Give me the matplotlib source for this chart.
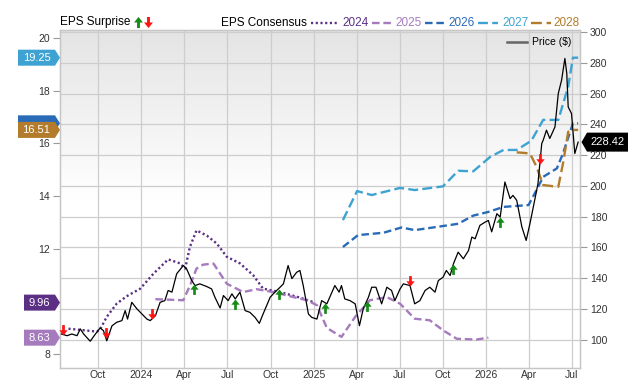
import numpy as np
import pandas as pd
import matplotlib
matplotlib.use("Agg")
import matplotlib.pyplot as plt
import matplotlib.dates as mdates
import matplotlib.transforms as mtransforms
from matplotlib.path import Path
from matplotlib.patches import Polygon
from matplotlib.lines import Line2D
from matplotlib.ticker import FixedLocator, FuncFormatter

plt.rcParams['font.family'] = ['Liberation Sans', 'DejaVu Sans']

# ---------------- data ----------------
price_dates = [
    "2023-07-16", "2023-07-28", "2023-08-07", "2023-08-18", "2023-08-25", "2023-09-01", "2023-09-15",
    "2023-09-26", "2023-10-06", "2023-10-13", "2023-10-20", "2023-10-31", "2023-11-10", "2023-11-21",
    "2023-11-28", "2023-12-03", "2023-12-12", "2023-12-23", "2024-01-13", "2024-01-20", "2024-01-31",
    "2024-02-10", "2024-02-20", "2024-02-27", "2024-03-06", "2024-03-16", "2024-03-30", "2024-04-06",
    "2024-04-17", "2024-04-24", "2024-05-04", "2024-05-19", "2024-05-29", "2024-06-05", "2024-06-16",
    "2024-06-23", "2024-07-03", "2024-07-11", "2024-07-18", "2024-07-28", "2024-08-08", "2024-08-18",
    "2024-08-29", "2024-09-07", "2024-09-15", "2024-09-30", "2024-10-10", "2024-10-21", "2024-10-28",
    "2024-11-07", "2024-11-15", "2024-11-25", "2024-12-02", "2024-12-09", "2024-12-20", "2024-12-27",
    "2025-01-07", "2025-01-17", "2025-01-28", "2025-02-14", "2025-02-23", "2025-02-28", "2025-03-07",
    "2025-03-18", "2025-03-29", "2025-04-07", "2025-04-15", "2025-04-26", "2025-05-03", "2025-05-12",
    "2025-05-24", "2025-06-04", "2025-06-14", "2025-06-21", "2025-07-02", "2025-07-09", "2025-07-23",
    "2025-08-02", "2025-08-13", "2025-08-24", "2025-09-03", "2025-09-14", "2025-09-21", "2025-10-01",
    "2025-10-08", "2025-10-16", "2025-10-23", "2025-11-02", "2025-11-13", "2025-11-24", "2025-12-01",
    "2025-12-08", "2025-12-18", "2025-12-29", "2026-01-05", "2026-01-12", "2026-01-23", "2026-01-30",
    "2026-02-09", "2026-02-20", "2026-02-26", "2026-03-06", "2026-03-17", "2026-03-26", "2026-04-03",
    "2026-04-13", "2026-04-20", "2026-04-28", "2026-05-01", "2026-05-08", "2026-05-15", "2026-05-26",
    "2026-06-02", "2026-06-09", "2026-06-16", "2026-06-20", "2026-06-23", "2026-06-30", "2026-07-07",
    "2026-07-14"]
price_values = [
    103.7, 102.6, 103.7, 102.6, 107.0, 103.7, 99.0,
    103.7, 107.6, 105.9, 99.3, 109.0, 111.3, 112.4,
    118.9, 113.4, 124.3, 120.0, 113.4, 112.4, 115.6,
    124.3, 125.4, 132.0, 130.9, 142.8, 148.2, 146.1,
    138.4, 135.2, 136.3, 134.5, 133.0, 127.6, 120.6,
    128.7, 125.4, 129.8, 126.5, 130.9, 118.9, 117.8,
    114.5, 110.6, 116.7, 127.6, 130.9, 134.1, 136.3,
    148.2, 139.7, 143.8, 145.0, 135.2, 116.7, 114.5,
    113.4, 125.4, 123.3, 135.2, 130.9, 135.2, 126.5,
    125.4, 123.3, 109.1, 120.0, 127.6, 134.1, 134.1,
    123.3, 134.1, 132.0, 125.4, 133.0, 136.3, 135.2,
    123.3, 125.4, 132.0, 134.1, 130.9, 138.4, 140.6,
    145.0, 141.7, 149.3, 156.9, 152.6, 158.0, 166.7,
    165.6, 174.3, 176.4, 177.5, 170.1, 181.9, 179.7,
    202.5, 191.7, 193.8, 190.6, 173.2, 164.5, 175.4,
    190.6, 201.4, 227.5, 229.6, 236.2, 230.8, 238.3,
    260.0, 268.7, 282.8, 273.1, 251.3, 247.0, 221.0,
    228.42]

eps2024_dates = ["2023-07-31", "2023-09-08", "2023-09-29", "2023-10-06", "2023-10-20", "2023-11-10",
                 "2023-12-01", "2023-12-30", "2024-01-27", "2024-02-27", "2024-03-23", "2024-04-03",
                 "2024-04-13", "2024-04-27", "2024-05-19", "2024-06-09", "2024-06-30", "2024-07-28",
                 "2024-08-25", "2024-09-15", "2024-10-21", "2024-12-02", "2025-01-03"]
eps2024_values = [8.97, 8.90, 8.86, 8.95, 9.42, 9.92,
                  10.20, 10.49, 11.06, 11.60, 11.45, 11.25,
                  12.07, 12.70, 12.50, 12.20, 11.70, 11.45,
                  11.00, 10.49, 10.36, 10.15, 9.96]

eps2025_dates = ["2024-01-31", "2024-03-30", "2024-04-13", "2024-04-27", "2024-05-11", "2024-06-02",
                 "2024-06-30", "2024-08-04", "2024-09-01", "2024-10-07", "2024-11-18", "2024-12-17",
                 "2025-01-07", "2025-01-28", "2025-02-28", "2025-03-29", "2025-04-29", "2025-06-04",
                 "2025-07-02", "2025-08-02", "2025-09-03", "2025-10-01", "2025-10-30", "2025-12-11",
                 "2026-01-05"]
eps2025_values = [10.09, 10.05, 10.60, 11.25, 11.40, 11.44,
                  10.68, 10.36, 10.47, 10.36, 10.17, 10.05,
                  9.86, 9.00, 8.66, 9.42, 10.05, 10.17,
                  9.92, 9.35, 9.29, 8.91, 8.59, 8.56,
                  8.63]

eps2026_dates = ["2025-03-03", "2025-04-04", "2025-05-28", "2025-07-05", "2025-08-02", "2025-09-10",
                 "2025-11-02", "2025-12-04", "2026-01-05", "2026-02-06", "2026-03-31", "2026-04-17",
                 "2026-05-01", "2026-05-30", "2026-06-12", "2026-07-03", "2026-07-14"]
eps2026_values = [12.07, 12.52, 12.61, 12.81, 12.71, 12.81,
                  12.95, 13.26, 13.40, 13.59, 13.66, 14.23,
                  14.73, 15.05, 15.62, 16.76, 16.76]

eps2027_dates = ["2025-03-03", "2025-04-02", "2025-05-03", "2025-07-02", "2025-08-02", "2025-10-01",
                 "2025-11-02", "2025-12-04", "2026-01-09", "2026-02-06", "2026-03-06", "2026-04-06",
                 "2026-05-01", "2026-06-02", "2026-06-23", "2026-07-03", "2026-07-14"]
eps2027_values = [13.09, 14.19, 14.04, 14.31, 14.23, 14.37,
                  14.96, 14.94, 15.49, 15.75, 15.75, 16.10,
                  16.89, 16.89, 18.15, 19.25, 19.25]

eps2028_dates = ["2026-03-06", "2026-04-03", "2026-04-17", "2026-05-01", "2026-06-02", "2026-06-12",
                 "2026-06-23", "2026-07-03", "2026-07-14"]
eps2028_values = [15.66, 15.62, 15.11, 14.42, 14.35, 15.24,
                  16.44, 16.51, 16.51]

earn_dates = ["2023-07-20", "2023-10-18", "2024-01-23", "2024-04-22", "2024-07-18", "2024-10-18",
              "2025-01-25", "2025-04-22", "2025-07-23", "2025-10-23", "2026-01-29", "2026-04-24"]
earn_beat = [False, False, False, True, True, True, True, True, False, True, True, False]

series_names = ["2024", "2025", "2026", "2027", "2028"]
series_colors = ["#5b2f84", "#a57bbd", "#2a6bb8", "#3ea2d2", "#b27c2c"]
series_styles = [(0, (0.9, 1.1)), (0, (3.2, 1.6)), (0, (3.2, 1.6)), (0, (4.2, 1.8)), (0, (4.6, 2.0))]
series_data = [(eps2024_dates, eps2024_values), (eps2025_dates, eps2025_values),
               (eps2026_dates, eps2026_values), (eps2027_dates, eps2027_values),
               (eps2028_dates, eps2028_values)]

x_start, x_end = "2023-07-13", "2026-07-18"
eps_lim = (7.48, 20.30)
price_lim = (81.6, 301.3)
eps_ticks = [8, 10, 12, 14, 16, 18, 20]
price_ticks = [100, 120, 140, 160, 180, 200, 220, 240, 260, 280, 300]

# ---------------- figure ----------------
W, H = 640, 382
fig = plt.figure(figsize=(W / 100, H / 100), dpi=100)
AX_TOP, AX_BOT = 30, 368
ax = fig.add_axes([60 / W, 1 - AX_BOT / H, 520 / W, (AX_BOT - AX_TOP) / H])
ax2 = ax.twinx()
AX_H = AX_BOT - AX_TOP

grid_c = "#cdcdcd"
txt_c = "#333333"

# gradient background (gray at top fading to white)
grad = np.linspace(0, 1, 256).reshape(-1, 1)
shade = np.clip(grad / 0.5, 0, 1)
vals = 0.895 + (1 - 0.895) * shade
img = np.dstack([vals, vals, vals])
ax.imshow(img, extent=[0, 1, 0, 1], origin="upper", transform=ax.transAxes, aspect="auto",
          zorder=0.1, interpolation="bilinear")

ax.set_xlim(pd.Timestamp(x_start), pd.Timestamp(x_end))
ax.set_ylim(*eps_lim)
ax2.set_ylim(*price_lim)

# x axis
ax.xaxis.set_major_locator(mdates.MonthLocator(bymonth=[1, 4, 7, 10]))
def xfmt(x, pos):
    d = mdates.num2date(x)
    return str(d.year) if d.month == 1 else d.strftime("%b")
ax.xaxis.set_major_formatter(FuncFormatter(xfmt))
ax.tick_params(axis="x", length=0, pad=1.5, labelsize=7.5, labelcolor=txt_c)

# left axis
ax.set_yticks(eps_ticks)
ax.tick_params(axis="y", which="major", length=5, width=0.8, color="#9a9a9a", pad=2,
               labelsize=7.5, labelcolor=txt_c)
# price grid lines drawn in the back axes
pt = np.array(price_ticks, dtype=float)
grid_pos = eps_lim[0] + (pt - price_lim[0]) * (eps_lim[1] - eps_lim[0]) / (price_lim[1] - price_lim[0])
ax.yaxis.set_minor_locator(FixedLocator(grid_pos))
ax.tick_params(axis="y", which="minor", length=0)
ax.set_axisbelow(True)
ax.grid(axis="x", which="major", color=grid_c, lw=0.9)
ax.grid(axis="y", which="minor", color=grid_c, lw=0.9)

# right axis
ax2.set_yticks(price_ticks)
ax2.tick_params(axis="y", length=5, width=0.8, color="#9a9a9a", pad=2, labelsize=7.5,
                labelcolor=txt_c)

for a in (ax, ax2):
    for s in a.spines.values():
        s.set_color("#c6c6c6")
        s.set_linewidth(0.9)

# EPS consensus lines
for name, col, ls, (d, v) in zip(series_names, series_colors, series_styles, series_data):
    ax.plot(pd.to_datetime(d), v, color=col, lw=1.7, ls=ls, zorder=3,
            dash_capstyle="butt", solid_capstyle="butt")

# price line
pdates = pd.to_datetime(price_dates)
ax2.plot(pdates, price_values, color="black", lw=0.9, zorder=4)

# EPS surprise arrows (tip on price line)
up_path = Path([(0, 0), (-0.4, -0.5), (-0.13, -0.5), (-0.13, -1), (0.13, -1), (0.13, -0.5),
                (0.4, -0.5), (0, 0)],
               [Path.MOVETO] + [Path.LINETO] * 6 + [Path.CLOSEPOLY])
down_path = Path([(x, -y) for x, y in up_path.vertices], up_path.codes)
green, red = "#178a17", "#ff1414"
ed = pd.to_datetime(earn_dates)
ey = np.interp(mdates.date2num(ed), mdates.date2num(pdates), price_values)
for d, y, beat in zip(ed, ey, earn_beat):
    ax2.plot([d], [y], ls="none", marker=up_path if beat else down_path, ms=15, mew=0,
             color=green if beat else red, zorder=6, clip_on=False)

# ---------------- value tags ----------------
def left_tag(value, color, text=True, width_px=42):
    tr = mtransforms.blended_transform_factory(ax.transAxes, ax.transData)
    x0 = -width_px / 520
    x1 = -5 / 520
    h = 8 / (AX_H / (eps_lim[1] - eps_lim[0]))
    poly = Polygon([(x0, value - h), (x1, value - h), (0, value), (x1, value + h), (x0, value + h)],
                   closed=True, transform=tr, facecolor=color, edgecolor="none", clip_on=False,
                   zorder=10)
    fig.add_artist(poly)
    if text:
        fig.text((x0 + x1) / 2, value, f"{value:.2f}", transform=tr, fontsize=8, color="white",
                 ha="center", va="center", zorder=11)

last_vals = [v[-1] for _, v in series_data]
left_tag(last_vals[2], series_colors[2], text=False, width_px=42)
left_tag(last_vals[4], series_colors[4], width_px=42)
left_tag(last_vals[3], series_colors[3], width_px=42)
left_tag(last_vals[0], series_colors[0], width_px=36)
left_tag(last_vals[1], series_colors[1], width_px=36)

# price tag (right)
tr2 = mtransforms.blended_transform_factory(ax2.transAxes, ax2.transData)
pv = price_values[-1]
hp = 9.5 / (AX_H / (price_lim[1] - price_lim[0]))
xa, xb, xc = 1 + 1.5 / 520, 1 + 7 / 520, 1 + 48 / 520
fig.add_artist(Polygon([(xa, pv), (xb, pv - hp), (xc, pv - hp), (xc, pv + hp), (xb, pv + hp)],
                       closed=True, transform=tr2, facecolor="black", edgecolor="none",
                       clip_on=False, zorder=10))
fig.text((xb + xc) / 2, pv, f"{pv:.2f}", transform=tr2, fontsize=8, color="white",
         ha="center", va="center", zorder=11)

# ---------------- legends ----------------
def fx(px):
    return px / W
def fy(py):
    return 1 - py / H

ly = 22.5
fig.text(fx(60), fy(ly), "EPS Surprise", fontsize=8.5, color="black", ha="left", va="center")
up_c = Path(up_path.vertices + np.array([0, 0.5]), up_path.codes)
down_c = Path(down_path.vertices + np.array([0, -0.5]), down_path.codes)
fig.add_artist(Line2D([fx(138)], [fy(ly - 0.5)], marker=up_c, ms=8, mew=0, color=green,
                      ls="none", transform=fig.transFigure))
fig.add_artist(Line2D([fx(148)], [fy(ly - 0.5)], marker=down_c, ms=8, mew=0, color=red,
                      ls="none", transform=fig.transFigure))
fig.text(fx(221), fy(ly), "EPS Consensus", fontsize=8.5, color="black", ha="left", va="center")

sample_x = [(311, 337), (372, 393), (425, 446), (478, 498), (531, 551)]
text_x = [342, 395, 448, 502, 553]
for name, col, ls, (a, b), tx in zip(series_names, series_colors, series_styles, sample_x, text_x):
    fig.add_artist(Line2D([fx(a), fx(b)], [fy(ly), fy(ly)], color=col, lw=1.7, ls=ls,
                          transform=fig.transFigure, dash_capstyle="butt"))
    fig.text(fx(tx), fy(ly), name, fontsize=8.5, color=col, ha="left", va="center")

# price legend inside plot
fig.add_artist(Line2D([fx(507), fx(527)], [fy(41.5), fy(41.5)], color="#666666", lw=1.8,
                      transform=fig.transFigure, zorder=12))
fig.text(fx(532), fy(42), "Price ($)", fontsize=7.5, color="black", ha="left", va="center",
         zorder=12)

fig.savefig("out.png", dpi=100)
